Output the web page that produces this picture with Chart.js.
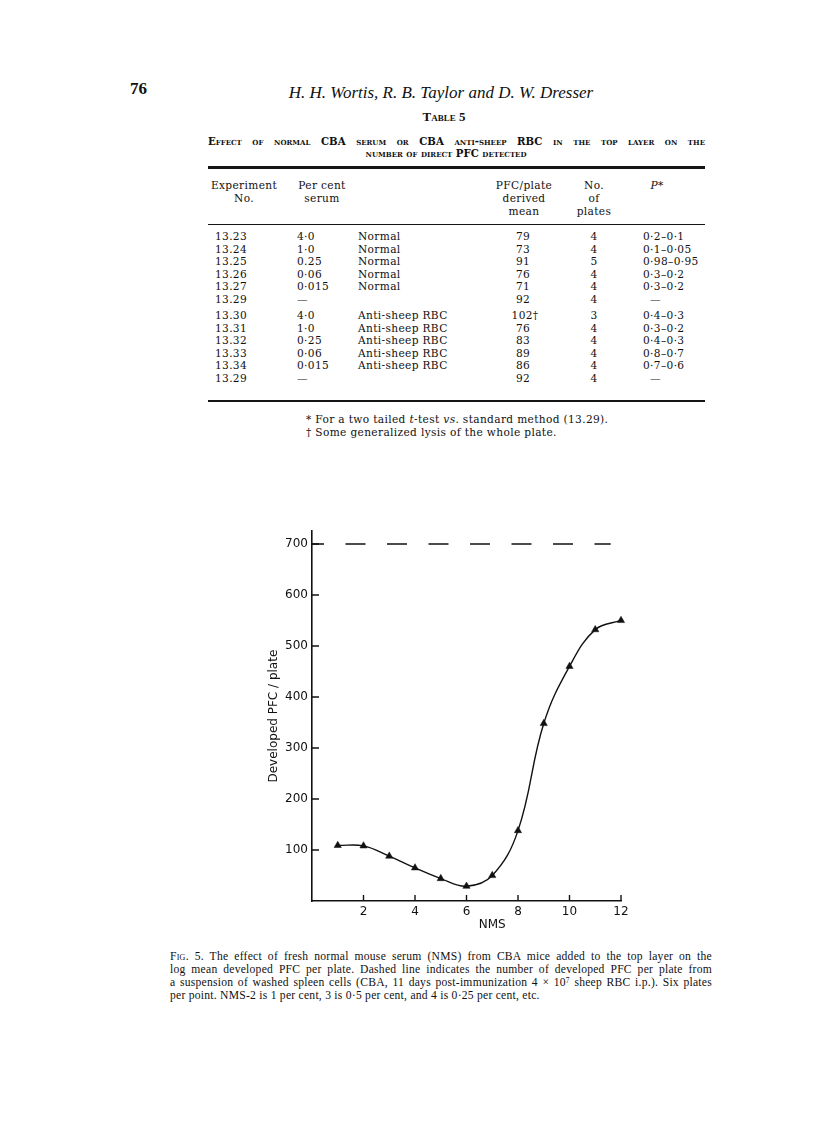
<!DOCTYPE html>
<html>
<head>
<meta charset="utf-8">
<script src="https://cdn.jsdelivr.net/npm/chart.js@4.4.1/dist/chart.umd.min.js"></script>
<style>
  html, body { margin: 0; padding: 0; background: #fff; }
  body { width: 816px; height: 1128px; position: relative; overflow: hidden;
         font-family: "Liberation Serif", "DejaVu Serif", serif; color: #111; }
  .t { position: absolute; white-space: nowrap; line-height: 12px; }
  .c { transform: translateX(-50%); }
  .sc { font-variant: small-caps; }
  .tab { font-family: "DejaVu Serif", serif; font-size: 10.6px; letter-spacing: 0.35px; }
  .rule { position: absolute; background: #151515; }
  .cap { position: absolute; left: 170px; width: 542px; font-size: 11.6px; line-height: 12px;
         letter-spacing: 0.25px; white-space: nowrap; }
  .cap.j { text-align: justify; text-align-last: justify; white-space: normal; }
  #chartBox { position: absolute; left: 250px; top: 520px; width: 420px; height: 420px; }
</style>
</head>
<body>

<div class="t" style="left:130px; top:82px; font-size:17px; font-weight:bold; line-height:14px;">76</div>
<div class="t c" style="left:441px; top:85px; font-size:17px; font-style:italic; line-height:16px;">H. H. Wortis, R. B. Taylor and D. W. Dresser</div>
<div class="t c sc" style="left:444px; top:111px; font-size:13px; font-weight:bold;">Table 5</div>
<div class="t sc" style="left:208px; width:497px; top:135px; font-family:'DejaVu Serif',serif; font-size:10.2px; font-weight:bold; text-align:justify; text-align-last:justify; white-space:normal;">Effect of normal CBA serum or CBA anti-sheep RBC in the top layer on the</div>
<div class="t c sc" style="left:446px; top:147px; font-family:'DejaVu Serif',serif; font-size:10.2px; font-weight:bold;">number of direct PFC detected</div>

<div class="rule" style="left:208px; top:166px; width:497px; height:2.5px;"></div>
<div class="rule" style="left:208px; top:224px; width:497px; height:1.3px;"></div>
<div class="rule" style="left:208px; top:400px; width:497px; height:1.8px;"></div>

<div id="table"></div>

<div class="t tab" style="left:306px; top:413px;">* For a two tailed <i>t</i>-test <i>vs</i>. standard method (13.29).</div>
<div class="t tab" style="left:306px; top:426px;">† Some generalized lysis of the whole plate.</div>

<div id="chartBox"><canvas id="fig5" width="420" height="420"></canvas></div>

<div class="cap j" style="top:951px;"><span class="sc">Fig.</span> 5. The effect of fresh normal mouse serum (NMS) from CBA mice added to the top layer on the</div>
<div class="cap j" style="top:964px;">log mean developed PFC per plate. Dashed line indicates the number of developed PFC per plate from</div>
<div class="cap j" style="top:977px;">a suspension of washed spleen cells (CBA, 11 days post-immunization 4 × 10<span style="font-size:7.5px; position:relative; top:-3.5px;">7</span> sheep RBC i.p.). Six plates</div>
<div class="cap" style="top:990px;">per point. NMS-2 is 1 per cent, 3 is 0·5 per cent, and 4 is 0·25 per cent, etc.</div>

<script>
// Table 5 columns
var expNo = ['13.23', '13.24', '13.25', '13.26', '13.27', '13.29', '13.30', '13.31', '13.32', '13.33', '13.34', '13.29'];
var perCent = ['4·0', '1·0', '0.25', '0·06', '0·015', '—', '4·0', '1·0', '0·25', '0·06', '0·015', '—'];
var serumType = ['Normal', 'Normal', 'Normal', 'Normal', 'Normal', '', 'Anti-sheep RBC', 'Anti-sheep RBC', 'Anti-sheep RBC', 'Anti-sheep RBC', 'Anti-sheep RBC', ''];
var pfcMean = ['79', '73', '91', '76', '71', '92', '102†', '76', '83', '89', '86', '92'];
var noPlates = ['4', '4', '5', '4', '4', '4', '3', '4', '4', '4', '4', '4'];
var pValue = ['0·2–0·1', '0·1–0·05', '0·98–0·95', '0·3–0·2', '0·3–0·2', '—', '0·4–0·3', '0·3–0·2', '0·4–0·3', '0·8–0·7', '0·7–0·6', '—'];

// Fig. 5 values
var nms = [1, 2, 3, 4, 5, 6, 7, 8, 9, 10, 11, 12];
var pfcPerPlate = [109, 108, 88, 65, 44, 29, 50, 138, 348, 460, 532, 550];
var washedCellsX = [0, 11.6];
var washedCellsY = [700, 700];
var yTickValues = [100, 200, 300, 400, 500, 600, 700];
var xTickValues = [2, 4, 6, 8, 10, 12];
var xTitle = 'NMS';
var yTitle = 'Developed PFC / plate';

var ink = '#111';

function addText(html, x, yCenter, center) {
  var d = document.createElement('div');
  d.className = 't tab' + (center ? ' c' : '');
  d.style.left = x + 'px';
  d.style.top = (yCenter - 6) + 'px';
  d.innerHTML = html;
  document.getElementById('table').appendChild(d);
}

// header
addText('Experiment', 244, 185, true);
addText('No.', 244, 198, true);
addText('Per cent', 322, 185, true);
addText('serum', 322, 198, true);
addText('PFC/plate', 524, 185, true);
addText('derived', 524, 198, true);
addText('mean', 524, 211, true);
addText('No.', 594, 185, true);
addText('of', 594, 198, true);
addText('plates', 594, 211, true);
addText('<i>P</i>*', 657, 185, true);

for (var i = 0; i < expNo.length; i++) {
  var y = i < 6 ? 236 + i * 12.5 : 315 + (i - 6) * 12.6;
  addText(expNo[i], 231, y, true);
  addText(perCent[i], 297, y, false);
  addText(serumType[i], 358, y, false);
  addText(pfcMean[i], 523 + (pfcMean[i].indexOf('†') > -1 ? 2 : 0), y, true);
  addText(noPlates[i], 594, y, true);
  addText(pValue[i], pValue[i] === '—' ? 650 : 643, y, false);
}

var inwardTicks = {
  id: 'inwardTicks',
  afterDraw: function(chart) {
    var ctx = chart.ctx;
    var area = chart.chartArea;
    var xs = chart.scales.x, ys = chart.scales.y;
    ctx.save();
    ctx.strokeStyle = ink;
    ctx.lineWidth = 1.4;
    ctx.beginPath();
    yTickValues.forEach(function(v) {
      var py = ys.getPixelForValue(v);
      ctx.moveTo(area.left, py);
      ctx.lineTo(area.left + 7, py);
    });
    xTickValues.forEach(function(v) {
      var px = xs.getPixelForValue(v);
      ctx.moveTo(px, area.bottom);
      ctx.lineTo(px, area.bottom - 6);
    });
    ctx.stroke();
    ctx.font = '12px "DejaVu Sans"';
    ctx.fillStyle = ink;
    ctx.textAlign = 'center';
    ctx.textBaseline = 'middle';
    ctx.fillText(xTitle, xs.getPixelForValue(7), area.bottom + 24);
    ctx.restore();
  }
};

var ctx = document.getElementById('fig5').getContext('2d');
new Chart(ctx, {
  type: 'line',
  data: {
    datasets: [{
      data: nms.map(function(x, k) { return {x: x, y: pfcPerPlate[k]}; }),
      borderColor: ink,
      borderWidth: 1.4,
      tension: 0.4,
      pointStyle: 'triangle',
      pointRadius: 4.2,
      pointBackgroundColor: ink,
      pointBorderColor: ink,
      pointBorderWidth: 0.5,
      fill: false,
      clip: false
    }, {
      data: washedCellsX.map(function(x, k) { return {x: x, y: washedCellsY[k]}; }),
      borderColor: ink,
      borderWidth: 1.5,
      borderDash: [20, 21.5],
      borderDashOffset: 8,
      pointRadius: 0,
      fill: false,
      clip: false
    }]
  },
  options: {
    responsive: false,
    animation: false,
    devicePixelRatio: 1,
    layout: { padding: { top: 11, right: 49, left: 0, bottom: 0 } },
    plugins: { legend: { display: false }, tooltip: { enabled: false } },
    scales: {
      x: {
        type: 'linear', min: 0, max: 12,
        afterBuildTicks: function(s) { s.ticks = xTickValues.map(function(v) { return {value: v}; }); },
        afterFit: function(s) { s.height = 39; },
        ticks: { color: ink, padding: 4, font: { family: 'DejaVu Sans', size: 12 } },
        grid: { drawOnChartArea: false, drawTicks: false },
        border: { color: ink, width: 1.6 }
      },
      y: {
        type: 'linear', min: 0, max: 725,
        afterBuildTicks: function(s) { s.ticks = yTickValues.map(function(v) { return {value: v}; }); },
        afterFit: function(s) { s.width = 62; },
        ticks: { color: ink, padding: 4, font: { family: 'DejaVu Sans', size: 12 } },
        grid: { drawOnChartArea: false, drawTicks: false },
        border: { color: ink, width: 1.6 },
        title: { display: true, text: yTitle, color: ink, padding: { top: 17, bottom: 0 },
                 font: { family: 'DejaVu Sans', size: 12 } }
      }
    }
  },
  plugins: [inwardTicks]
});
</script>
</body>
</html>
